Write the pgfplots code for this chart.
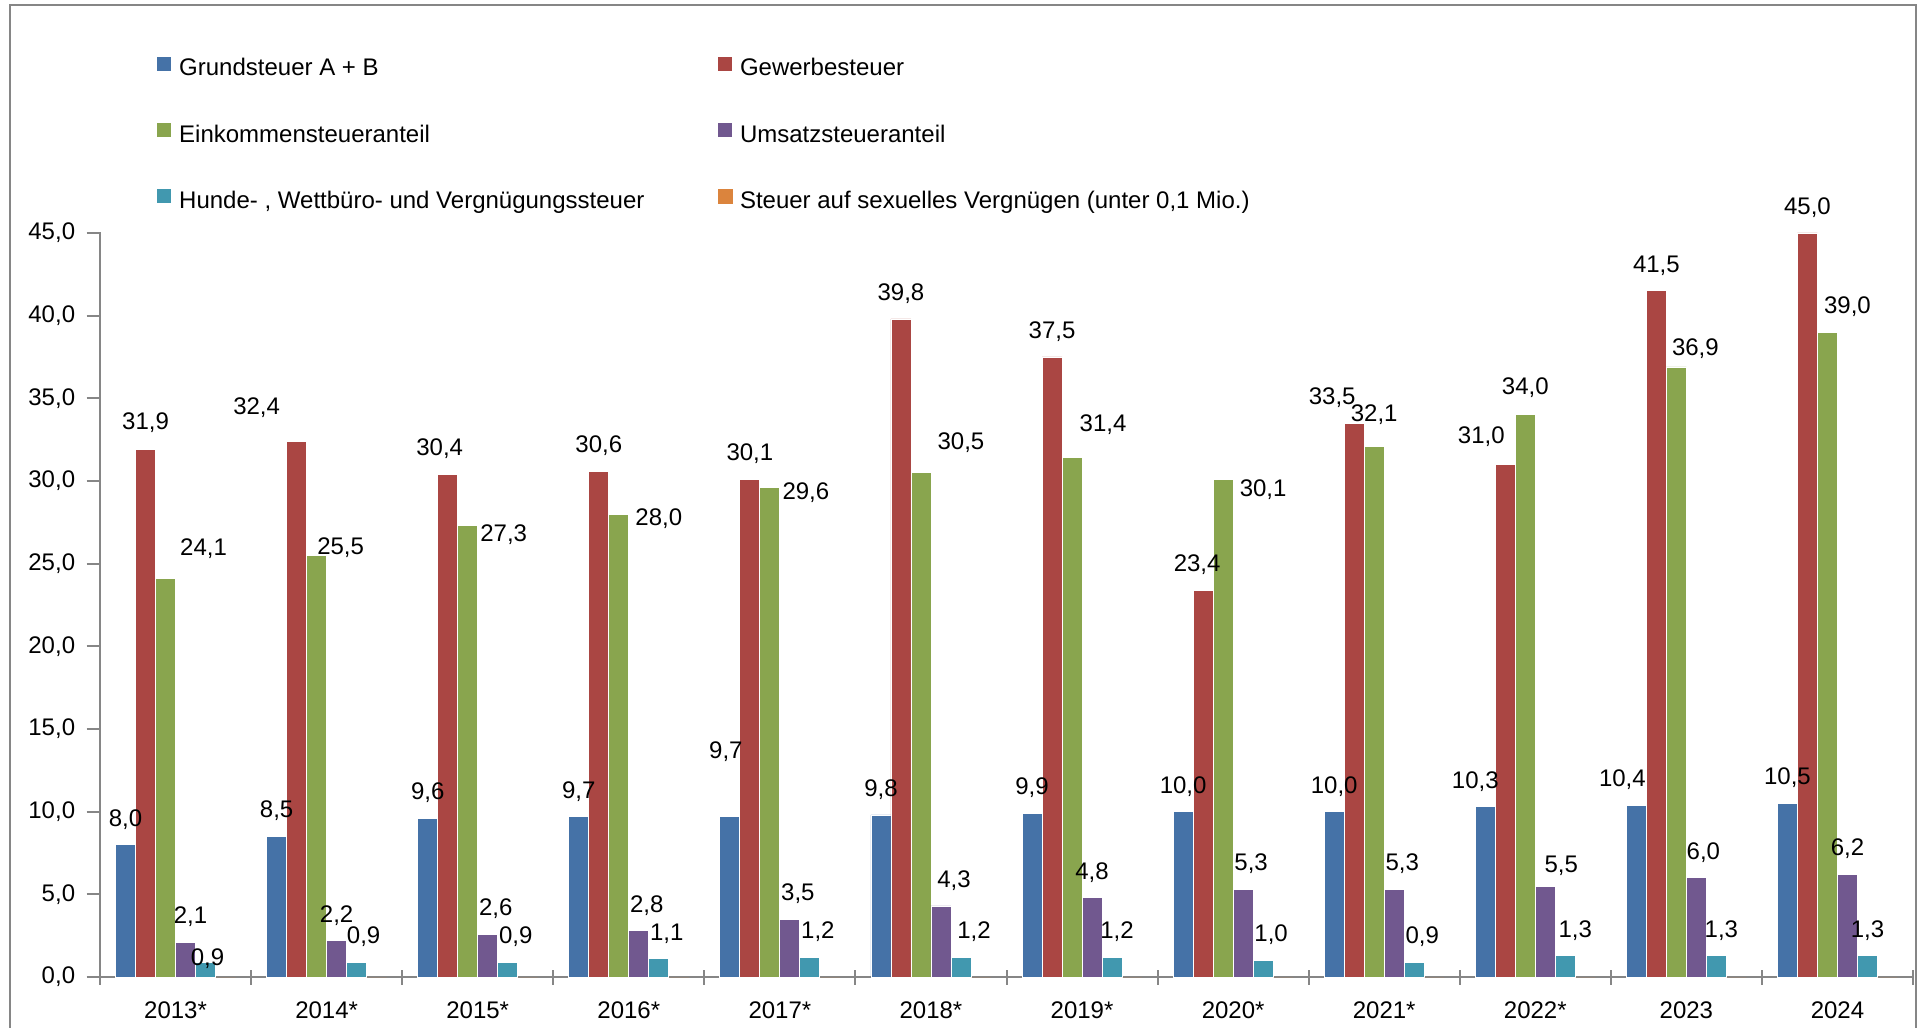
\documentclass[border=0pt]{standalone}
\usepackage{fontspec}
\setmainfont{Liberation Sans}
\usepackage{pgfplots}
\usepackage{pgfplotstable}
\pgfplotsset{compat=1.18}

\definecolor{cBlue}{HTML}{4572A7}
\definecolor{cRed}{HTML}{AA4643}
\definecolor{cGreen}{HTML}{89A54E}
\definecolor{cPurple}{HTML}{71588F}
\definecolor{cTeal}{HTML}{4198AF}
\definecolor{cOrange}{HTML}{DB843D}
\definecolor{axgray}{HTML}{868686}

% x = year index (0 = 2013), y = Mio. Euro, dx/dy = label offset in pt
\pgfplotstableread{
x y dx dy
0 8.0 0 0
1 8.5 0 0
2 9.6 0 0
3 9.7 0 0
4 9.7 -2 20
5 9.8 0 0
6 9.9 0 0
7 10.0 0 0
8 10.0 0 0
9 10.3 -5 0
10 10.4 -7 0
11 10.5 0 0
}\grund
\pgfplotstableread{
x y dx dy
0 31.9 0 1
1 32.4 -20 4
2 30.4 -4 0
3 30.6 0 0
4 30.1 0 0
5 39.8 0 0
6 37.5 0 0
7 23.4 -3 0
8 33.5 -11 0
9 31.0 -12 1
10 41.5 0 0
11 45.0 0 0
}\gewerbe
\pgfplotstableread{
x y dx dy
0 24.1 19 2.5
1 25.5 12 -9
2 27.3 18 -17
3 28.0 20 -15
4 29.6 18 -15
5 30.5 20 2.5
6 31.4 15.5 4
7 30.1 20 -18
8 32.1 0 3
9 34.0 0 1
10 36.9 9.5 -3.5
11 39.0 10 0
}\einkommen
\pgfplotstableread{
x y dx dy
0 2.1 2.5 0
1 2.2 0 0
2 2.6 4 0
3 2.8 4 0
4 3.5 4 0
5 4.3 6.5 0
6 4.8 0 0
7 5.3 4 0
8 5.3 4 0
9 5.5 8 -2.5
10 6.0 3.5 0
11 6.2 0 0
}\umsatz
\pgfplotstableread{
x y dx dy
0 0.9 1 -11
1 0.9 3.5 0
2 0.9 4 0
3 1.1 4 0
4 1.2 4 0
5 1.2 6.5 0
6 1.2 2.5 0
7 1.0 4 0
8 0.9 4 0
9 1.3 5 0
10 1.3 2.5 0
11 1.3 0 0
}\hunde
\pgfplotstableread{
x y
0 0
1 0
2 0
3 0
4 0
5 0
6 0
7 0
8 0
9 0
10 0
11 0
}\sexsteuer

\pgfplotsset{
  lbl/.style={
    nodes near coords={\pgfmathprintnumber[fixed,fixed zerofill,precision=1,use comma]{\pgfplotspointmeta}},
    visualization depends on={\thisrow{dx} \as \dx},
    visualization depends on={\thisrow{dy} \as \dy},
    every node near coord/.append style={anchor=base, inner sep=0pt, text=black,
      draw=none, fill=none, font=\fontsize{12}{14}\selectfont,
      xshift=\dx pt, yshift=9.25pt, yshift=\dy pt},
  },
}

\begin{document}
\begin{tikzpicture}[x=1pt,y=1pt]
\useasboundingbox (0,0) rectangle (962.5,513.5);
\clip (0,0) rectangle (962.5,513.5);
\draw[axgray, line width=1pt] (5,-10) rectangle (958,511);
\begin{axis}[
    at={(50pt,25pt)}, anchor=south west,
    scale only axis, width=906.5pt, height=372pt,
    clip=false,
    ybar=0pt, bar width=10pt,
    xmin=-0.5, xmax=11.5, ymin=0, ymax=45,
    xtick={-0.5,0.5,...,11.5},
    x tick label as interval,
    xticklabels={2013*,2014*,2015*,2016*,2017*,2018*,2019*,2020*,2021*,2022*,2023,2024},
    ytick={0,5,...,45},
    axis x line=bottom, axis y line=left,
    axis line style={axgray, line width=1pt, -},
    tick style={axgray, line width=1pt},
    tick align=center, major tick length=7.5pt,
    ytick style={xshift=-3pt},
    /pgf/number format/assume math mode=true,
    yticklabel style={/pgf/number format/fixed, /pgf/number format/fixed zerofill,
      /pgf/number format/precision=1, /pgf/number format/use comma,
      /tikz/inner sep=0pt, /tikz/xshift=-8.5pt},
    xticklabel style={/tikz/inner sep=0pt, /tikz/yshift=-8.5pt},
    tick label style={font=\fontsize{12}{14}\selectfont, text=black},
    legend columns=2,
    legend cell align=left,
    legend style={
      at={(axis description cs:0.0309,1.239)}, anchor=north west,
      draw=none, fill=none, inner sep=0pt,
      font=\fontsize{12}{14}\selectfont,
      nodes={inner sep=0pt, text height=9pt, text depth=3pt},
      row sep=20pt,
      /tikz/every odd column/.append style={column sep=3.5pt},
    },
    legend image code/.code={\fill[#1] (0pt,-0.5pt) rectangle (7.5pt,7pt);},
  ]
  \addplot[fill=cBlue, draw=white, line width=0.4pt, lbl] table[x=x,y=y]{\grund};
  \addlegendentry{\makebox[269pt][l]{Grundsteuer A + B}}
  \addplot[fill=cRed, draw=white, line width=0.4pt, lbl] table[x=x,y=y]{\gewerbe};
  \addlegendentry{Gewerbesteuer}
  \addplot[fill=cGreen, draw=white, line width=0.4pt, lbl] table[x=x,y=y]{\einkommen};
  \addlegendentry{\makebox[269pt][l]{Einkommensteueranteil}}
  \addplot[fill=cPurple, draw=white, line width=0.4pt, lbl] table[x=x,y=y]{\umsatz};
  \addlegendentry{Umsatzsteueranteil}
  \addplot[fill=cTeal, draw=white, line width=0.4pt, lbl] table[x=x,y=y]{\hunde};
  \addlegendentry{\makebox[269pt][l]{Hunde- , Wettbüro- und Vergnügungssteuer}}
  \addplot[fill=cOrange, draw=none] table[x=x,y=y]{\sexsteuer};
  \addlegendentry{Steuer auf sexuelles Vergnügen (unter 0,1 Mio.)}
\end{axis}
\end{tikzpicture}
\end{document}
